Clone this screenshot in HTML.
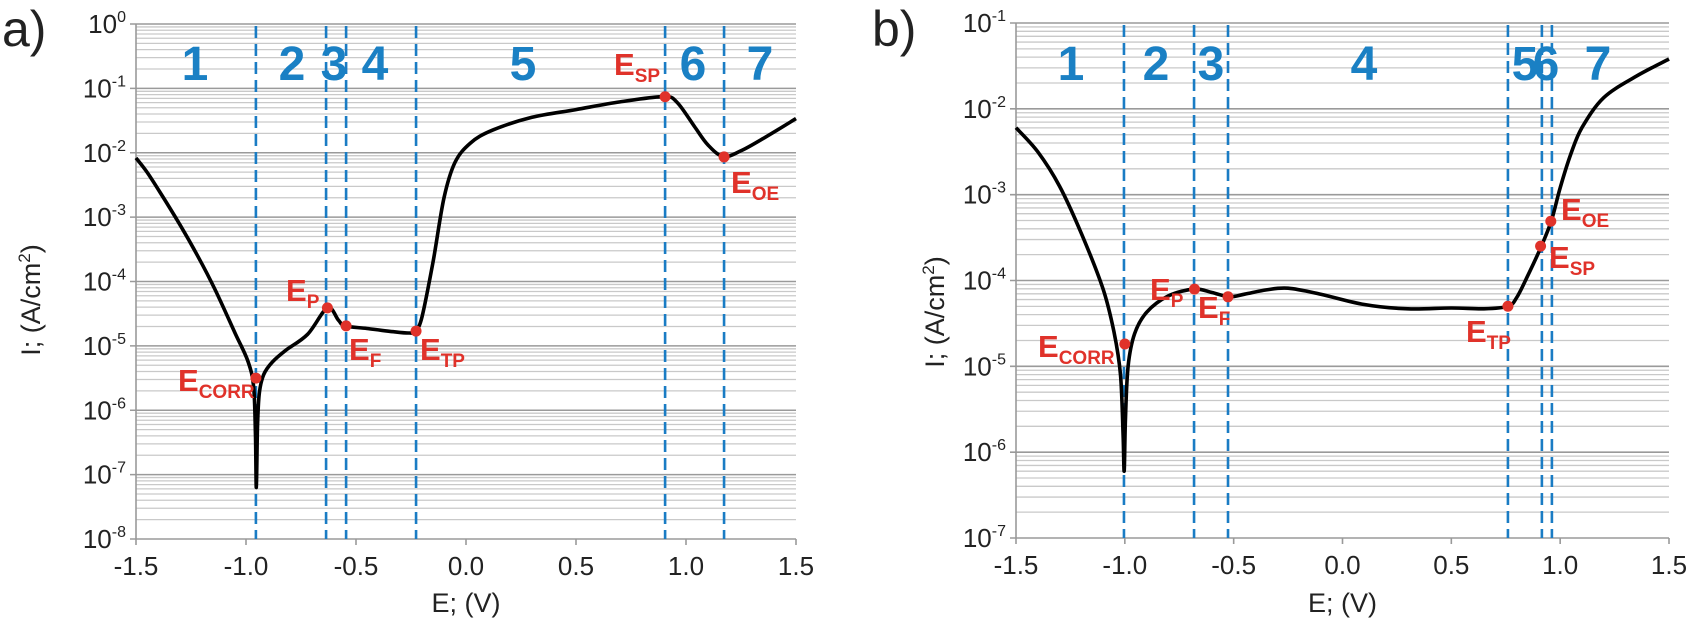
<!DOCTYPE html>
<html><head><meta charset="utf-8"><style>
html,body{margin:0;padding:0;background:#fff;}
svg{display:block;font-family:"Liberation Sans",Arial,sans-serif;}
</style></head><body>
<svg id="s" width="1694" height="624" viewBox="0 0 1694 624" xmlns="http://www.w3.org/2000/svg"></svg>
<script>
const S=document.getElementById('s');
let h='';
function plot(p){
  const X=e=>p.x0+(e+1.5)*(p.x1-p.x0)/3;
  const Y=l=>p.y0+(p.top-l)*(p.y1-p.y0)/(p.top-p.bot);
  for(let d=p.bot;d<p.top;d++){
    for(let m=2;m<=9;m++){const y=Y(d+Math.log10(m));h+=`<line x1="${p.x0}" x2="${p.x1}" y1="${y}" y2="${y}" stroke="#c9c9c9" stroke-width="1.3"/>`;}
  }
  for(let d=p.bot;d<=p.top;d++){const y=Y(d);
    h+=`<line x1="${p.x0-6}" x2="${p.x1}" y1="${y}" y2="${y}" stroke="#9a9a9a" stroke-width="1.6"/>`;
    h+=`<text x="${p.x0-10}" y="${y+9}" font-size="26" text-anchor="end" fill="#222">10<tspan dy="-11" font-size="16">${d}</tspan></text>`;
  }
  h+=`<line x1="${p.x0}" x2="${p.x0}" y1="${p.y0}" y2="${p.y1}" stroke="#999" stroke-width="1.6"/>`;
  for(let i=0;i<=6;i++){const e=-1.5+i*0.5,x=X(e);
    h+=`<line x1="${x}" x2="${x}" y1="${p.y1}" y2="${p.y1+6}" stroke="#999" stroke-width="1.6"/>`;
    h+=`<text x="${x}" y="${p.y1+36}" font-size="26" text-anchor="middle" fill="#222">${e.toFixed(1)}</text>`;
  }
  p.dash.forEach(e=>{const x=X(e);h+=`<line x1="${x}" x2="${x}" y1="${p.y0+2}" y2="${p.y1}" stroke="#1a7cc4" stroke-width="2.6" stroke-dasharray="12 6"/>`;});
  p.nums.forEach(n=>{h+=`<text x="${n[1]}" y="${p.numY}" font-size="48" font-weight="bold" text-anchor="middle" fill="#1a80c4">${n[0]}</text>`;});
  const pts=p.data.map(d=>[X(d[0]),Y(d[1])]);
  let d=`M${pts[0][0]},${pts[0][1]}`;
  for(let i=0;i<pts.length-1;i++){
    const p0=pts[Math.max(0,i-1)],p1=pts[i],p2=pts[i+1],p3=pts[Math.min(pts.length-1,i+2)];
    const t=1/6;
    const c1=[p1[0]+(p2[0]-p0[0])*t,p1[1]+(p2[1]-p0[1])*t];
    const c2=[p2[0]-(p3[0]-p1[0])*t,p2[1]-(p3[1]-p1[1])*t];
    d+=` C${c1[0].toFixed(1)},${c1[1].toFixed(1)} ${c2[0].toFixed(1)},${c2[1].toFixed(1)} ${p2[0].toFixed(1)},${p2[1].toFixed(1)}`;
  }
  h+=`<path d="${d}" fill="none" stroke="#000" stroke-width="3.6" stroke-linejoin="round"/>`;
  p.marks.forEach(m=>{
    h+=`<circle cx="${X(m[0])}" cy="${Y(m[1])}" r="5.5" fill="#e0322a"/>`;
    h+=`<text x="${m[3]}" y="${m[4]}" font-size="31" font-weight="bold" fill="#e0322a">E<tspan font-size="19" dy="7">${m[2]}</tspan></text>`;
  });
  h+=`<text x="${p.x0+(p.x1-p.x0)/2}" y="612" font-size="27" text-anchor="middle" fill="#222">E; (V)</text>`;
  h+=`<text transform="translate(${p.ytx},${p.yty}) rotate(-90)" font-size="27" text-anchor="middle" fill="#222">I; (A/cm<tspan dy="-10" font-size="17">2</tspan><tspan dy="10">)</tspan></text>`;
  h+=`<text x="${p.lx}" y="46" font-size="50" fill="#222">${p.lab}</text>`;
}
plot({x0:136,x1:796,y0:24,y1:539,top:0,bot:-8,numY:80,ytx:40,yty:300,lx:2,lab:'a)',
 dash:[-0.955,-0.636,-0.545,-0.227,0.905,1.173],
 nums:[['1',195],['2',292],['3',334],['4',375],['5',523],['6',693],['7',760]],
 data:[[-1.5,-2.08],[-1.45,-2.3],[-1.386,-2.64],[-1.3,-3.12],[-1.22,-3.6],[-1.14,-4.13],[-1.05,-4.8],[-0.99,-5.25],[-0.965,-5.65],[-0.957,-6.4],[-0.953,-7.2],[-0.948,-6.3],[-0.94,-5.75],[-0.92,-5.45],[-0.88,-5.25],[-0.82,-5.07],[-0.72,-4.82],[-0.63,-4.41],[-0.58,-4.6],[-0.55,-4.69],[-0.45,-4.73],[-0.33,-4.78],[-0.26,-4.8],[-0.23,-4.77],[-0.2,-4.55],[-0.15,-3.7],[-0.1,-2.7],[-0.05,-2.15],[0.02,-1.85],[0.12,-1.65],[0.3,-1.45],[0.5,-1.33],[0.7,-1.21],[0.9,-1.13],[0.96,-1.22],[1.04,-1.6],[1.1,-1.88],[1.17,-2.06],[1.25,-1.97],[1.36,-1.76],[1.5,-1.47]],
 marks:[[-0.955,-5.5,'CORR',178,391],[-0.63,-4.41,'P',286,301],[-0.545,-4.69,'F',349,360],[-0.227,-4.77,'TP',420,360],[0.905,-1.13,'SP',614,75],[1.173,-2.065,'OE',731,193]]
});
plot({x0:1016,x1:1669,y0:23,y1:538,top:-1,bot:-7,numY:80,ytx:944,yty:312,lx:872,lab:'b)',
 dash:[-1.004,-0.682,-0.526,0.76,0.916,0.962],
 nums:[['1',1071],['2',1156],['3',1211],['4',1364],['5',1525],['6',1546],['7',1598]],
 data:[[-1.5,-2.22],[-1.4,-2.5],[-1.3,-2.9],[-1.2,-3.45],[-1.1,-4.1],[-1.05,-4.6],[-1.02,-5.1],[-1.008,-5.8],[-1.003,-6.22],[-0.997,-5.6],[-0.985,-5.0],[-0.955,-4.62],[-0.9,-4.37],[-0.8,-4.18],[-0.68,-4.1],[-0.6,-4.14],[-0.52,-4.19],[-0.45,-4.16],[-0.35,-4.11],[-0.25,-4.09],[-0.1,-4.16],[0.1,-4.28],[0.3,-4.33],[0.5,-4.32],[0.65,-4.33],[0.76,-4.3],[0.8,-4.2],[0.85,-3.95],[0.91,-3.62],[0.96,-3.3],[1.0,-2.92],[1.05,-2.52],[1.1,-2.22],[1.2,-1.87],[1.35,-1.62],[1.5,-1.42]],
 marks:[[-1.0,-4.74,'CORR',1038,357],[-0.68,-4.1,'P',1150,300],[-0.526,-4.19,'F',1198,318],[0.76,-4.3,'TP',1466,342],[0.91,-3.6,'SP',1549,268],[0.957,-3.31,'OE',1561,220]]
});
S.innerHTML=h;
</script>
</body></html>
